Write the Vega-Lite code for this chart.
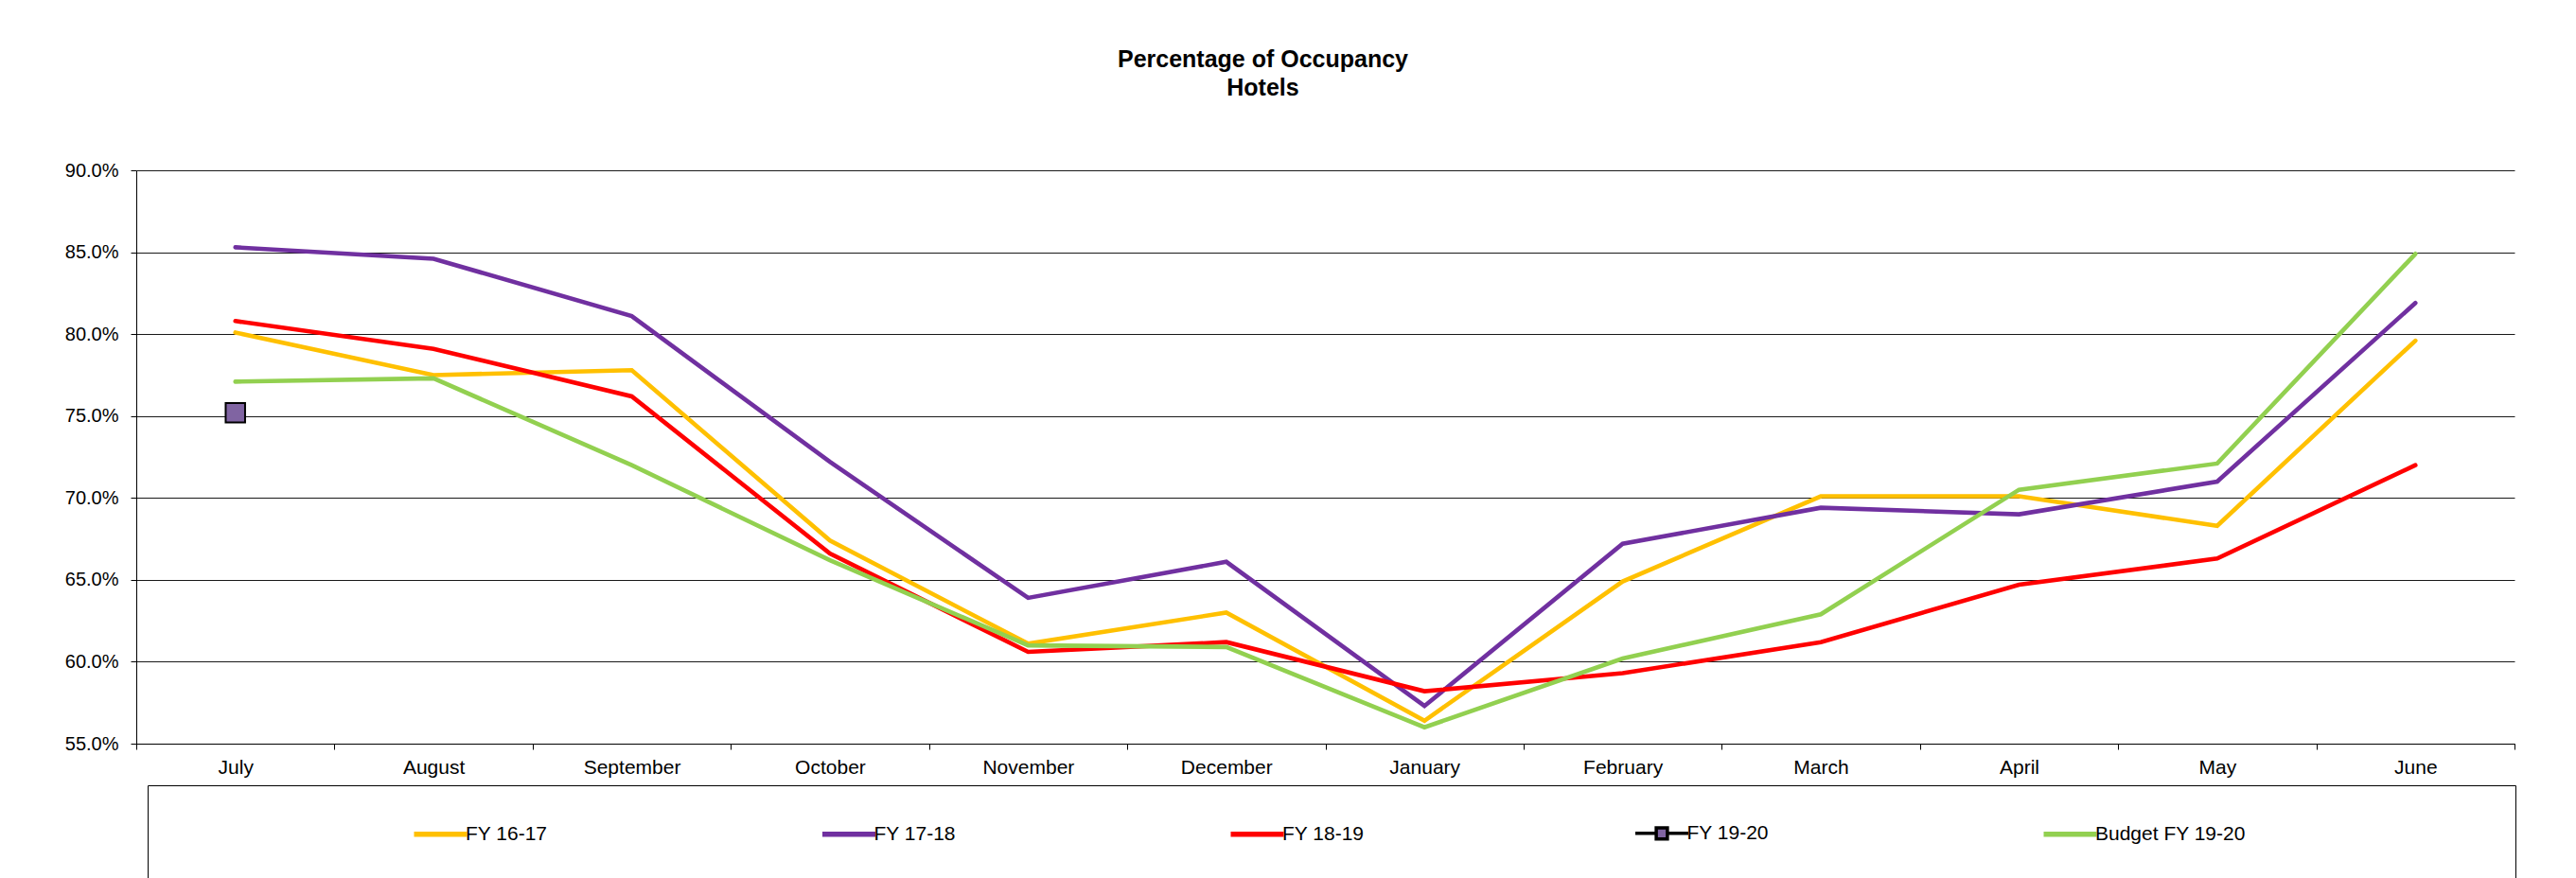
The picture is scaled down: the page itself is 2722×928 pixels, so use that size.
{
  "$schema": "https://vega.github.io/schema/vega-lite/v6.json",
  "width": 2513,
  "height": 606,
  "autosize": {"type": "none"},
  "padding": {"left": 144, "top": 180, "right": 65, "bottom": 142},
  "background": "#ffffff",
  "title": {
    "text": ["Percentage of Occupancy", "Hotels"],
    "font": "Liberation Sans",
    "fontSize": 25,
    "fontWeight": "bold",
    "color": "#000000",
    "lineHeight": 30,
    "anchor": "middle",
    "frame": "group",
    "dx": -66,
    "offset": 64
  },
  "config": {
    "view": {"stroke": null},
    "font": "Liberation Sans",
    "axis": {
      "labelFont": "Liberation Sans",
      "labelColor": "#000000",
      "domainColor": "#000000",
      "tickColor": "#000000",
      "tickSize": 6,
      "title": null
    }
  },
  "data": {
    "values": [
      {"month": "July", "series": "FY 16-17", "value": 0.801},
      {"month": "August", "series": "FY 16-17", "value": 0.775},
      {"month": "September", "series": "FY 16-17", "value": 0.778},
      {"month": "October", "series": "FY 16-17", "value": 0.674},
      {"month": "November", "series": "FY 16-17", "value": 0.611},
      {"month": "December", "series": "FY 16-17", "value": 0.630},
      {"month": "January", "series": "FY 16-17", "value": 0.564},
      {"month": "February", "series": "FY 16-17", "value": 0.649},
      {"month": "March", "series": "FY 16-17", "value": 0.701},
      {"month": "April", "series": "FY 16-17", "value": 0.701},
      {"month": "May", "series": "FY 16-17", "value": 0.683},
      {"month": "June", "series": "FY 16-17", "value": 0.796},
      {"month": "July", "series": "FY 17-18", "value": 0.853},
      {"month": "August", "series": "FY 17-18", "value": 0.846},
      {"month": "September", "series": "FY 17-18", "value": 0.811},
      {"month": "October", "series": "FY 17-18", "value": 0.722},
      {"month": "November", "series": "FY 17-18", "value": 0.639},
      {"month": "December", "series": "FY 17-18", "value": 0.661},
      {"month": "January", "series": "FY 17-18", "value": 0.573},
      {"month": "February", "series": "FY 17-18", "value": 0.672},
      {"month": "March", "series": "FY 17-18", "value": 0.694},
      {"month": "April", "series": "FY 17-18", "value": 0.690},
      {"month": "May", "series": "FY 17-18", "value": 0.710},
      {"month": "June", "series": "FY 17-18", "value": 0.819},
      {"month": "July", "series": "FY 18-19", "value": 0.808},
      {"month": "August", "series": "FY 18-19", "value": 0.791},
      {"month": "September", "series": "FY 18-19", "value": 0.762},
      {"month": "October", "series": "FY 18-19", "value": 0.666},
      {"month": "November", "series": "FY 18-19", "value": 0.606},
      {"month": "December", "series": "FY 18-19", "value": 0.612},
      {"month": "January", "series": "FY 18-19", "value": 0.582},
      {"month": "February", "series": "FY 18-19", "value": 0.593},
      {"month": "March", "series": "FY 18-19", "value": 0.612},
      {"month": "April", "series": "FY 18-19", "value": 0.647},
      {"month": "May", "series": "FY 18-19", "value": 0.663},
      {"month": "June", "series": "FY 18-19", "value": 0.720},
      {"month": "July", "series": "FY 19-20", "value": 0.752},
      {"month": "July", "series": "Budget FY 19-20", "value": 0.771},
      {"month": "August", "series": "Budget FY 19-20", "value": 0.773},
      {"month": "September", "series": "Budget FY 19-20", "value": 0.720},
      {"month": "October", "series": "Budget FY 19-20", "value": 0.662},
      {"month": "November", "series": "Budget FY 19-20", "value": 0.610},
      {"month": "December", "series": "Budget FY 19-20", "value": 0.609},
      {"month": "January", "series": "Budget FY 19-20", "value": 0.560},
      {"month": "February", "series": "Budget FY 19-20", "value": 0.602},
      {"month": "March", "series": "Budget FY 19-20", "value": 0.629},
      {"month": "April", "series": "Budget FY 19-20", "value": 0.705},
      {"month": "May", "series": "Budget FY 19-20", "value": 0.721},
      {"month": "June", "series": "Budget FY 19-20", "value": 0.849}
    ]
  },
  "encoding": {
    "x": {
      "field": "month",
      "type": "ordinal",
      "sort": ["July", "August", "September", "October", "November", "December", "January", "February", "March", "April", "May", "June"],
      "bandPosition": 0.5,
      "scale": {"type": "band", "paddingInner": 0, "paddingOuter": 0},
      "axis": {
        "labelAngle": 0,
        "labelFontSize": 21,
        "labelPadding": 8,
        "tickBand": "extent",
        "grid": false
      }
    },
    "y": {
      "field": "value",
      "type": "quantitative",
      "scale": {"domain": [0.55, 0.90], "nice": false, "zero": false},
      "axis": {
        "values": [0.55, 0.60, 0.65, 0.70, 0.75, 0.80, 0.85, 0.90],
        "format": ".1%",
        "labelFontSize": 20,
        "labelPadding": 13,
        "grid": true,
        "gridColor": "#000000",
        "gridWidth": 1,
        "gridOpacity": 0.9
      }
    }
  },
  "layer": [
    {
      "transform": [{"filter": "datum.series !== 'FY 19-20'"}],
      "mark": {"type": "line", "strokeWidth": 4.6, "strokeCap": "round"},
      "encoding": {
        "color": {
          "field": "series",
          "type": "nominal",
          "scale": {
            "domain": ["FY 16-17", "FY 17-18", "FY 18-19", "FY 19-20", "Budget FY 19-20"],
            "range": ["#FFC000", "#7030A0", "#FF0000", "#000000", "#92D050"]
          },
          "legend": {
            "orient": "none",
            "legendX": 12,
            "legendY": 650,
            "direction": "horizontal",
            "columns": 5,
            "gridAlign": "each",
            "columnPadding": 278.5,
            "padding": 40,
            "strokeColor": "#000000",
            "fillColor": "#ffffff",
            "title": "\u200b                                        \u200b",
            "titleOrient": "left",
            "titlePadding": 8,
            "titleFontSize": 21,
            "titleFont": "Liberation Sans",
            "titleLimit": 0,
            "symbolType": "stroke",
            "symbolSize": 3136,
            "symbolOffset": 17,
            "symbolStrokeWidth": 5.5,
            "labelFont": "Liberation Sans",
            "labelFontSize": 21,
            "labelColor": "#000000",
            "labelOffset": 16,
            "labelLimit": 0,
            "labelExpr": "datum.label === 'Budget FY 19-20' ? datum.label + '                                          \u200b' : datum.label",
            "encode": {
              "symbols": {
                "update": {
                  "shape": {"signal": "datum.value === 'FY 19-20' ? 'M-1,0H-0.21M0.21,0H1M-0.21,-0.21H0.21V0.21H-0.21Z' : 'stroke'"},
                  "fill": {"signal": "datum.value === 'FY 19-20' ? '#8064A2' : 'transparent'"},
                  "strokeWidth": {"signal": "datum.value === 'FY 19-20' ? 3.5 : 5.5"}
                }
              }
            }
          }
        }
      }
    },
    {
      "transform": [{"filter": "datum.series === 'FY 19-20'"}],
      "mark": {"type": "point", "shape": "square", "filled": true, "fill": "#8064A2", "stroke": "#000000", "strokeWidth": 2, "size": 420, "opacity": 1}
    }
  ]
}
